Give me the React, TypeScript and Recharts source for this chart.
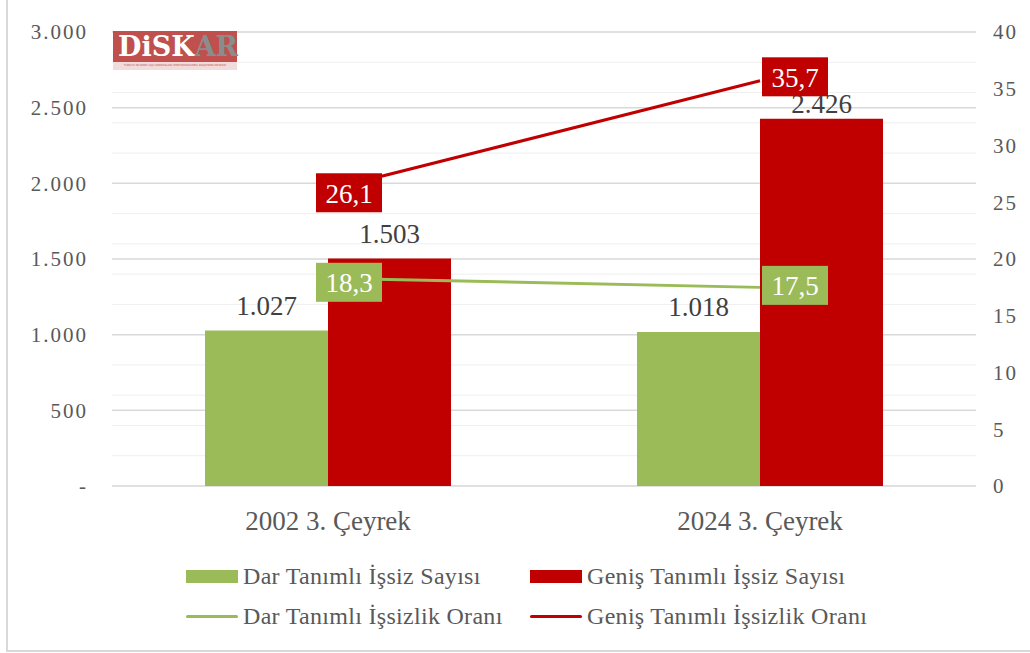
import React from 'react';
import { ComposedChart, Bar, Line, XAxis, YAxis, CartesianGrid, LabelList, Legend } from 'recharts';

const categories = ['2002 3. Çeyrek', '2024 3. Çeyrek'];
const darSayisi = [1027, 1018];
const genisSayisi = [1503, 2426];
const darOrani = [18.3, 17.5];
const genisOrani = [26.1, 35.7];
const leftTicks = [0, 500, 1000, 1500, 2000, 2500, 3000];
const rightTicks = [0, 5, 10, 15, 20, 25, 30, 35, 40];
const minorTicks = Array.from({ length: 31 }, (_, i) => i * 100);

const seriesNames = {
  darSayisi: 'Dar Tanımlı İşsiz Sayısı',
  genisSayisi: 'Geniş Tanımlı İşsiz Sayısı',
  darOrani: 'Dar Tanımlı İşsizlik Oranı',
  genisOrani: 'Geniş Tanımlı İşsizlik Oranı',
};

const GREEN = '#9bbb59';
const RED = '#c00000';
const TEXT = '#595959';
const SERIF = '"Liberation Serif", "DejaVu Serif", serif';

const data = categories.map((c, i) => ({
  name: c,
  darSayisi: darSayisi[i],
  genisSayisi: genisSayisi[i],
  darOrani: darOrani[i],
  genisOrani: genisOrani[i],
}));

const fmtThousands = (v: number) => {
  if (v === 0) return '-';
  const s = String(Math.round(v));
  return s.replace(/\B(?=(\d{3})+(?!\d))/g, '.');
};
const fmtDecimal = (v: number) => v.toFixed(1).replace('.', ',');

const labelShiftX = [21, 35];

const makeBoxLabel = (color: string, shiftY: number[]) => (props: any) => {
  const { x, y, value, index } = props;
  const cx = x + labelShiftX[index];
  const cy = y + shiftY[index];
  const w = 66;
  const h = 39;
  return (
    <g>
      <rect x={cx - w / 2} y={cy - h / 2} width={w} height={h} fill={color} />
      <text x={cx} y={cy + 1} textAnchor="middle" dominantBaseline="central" fill="#ffffff" fontSize={27} fontFamily={SERIF}>
        {fmtDecimal(value)}
      </text>
    </g>
  );
};

const makeBarLabel = (shiftY: number[]) => (props: any) => {
  const { x, y, width, value, index } = props;
  const cx = x + width / 2;
  const cy = y - 25 + shiftY[index];
  return (
    <text x={cx} y={cy} textAnchor="middle" dominantBaseline="central" fill="#404040" fontSize={27} fontFamily={SERIF}>
      {fmtThousands(Number(value))}
    </text>
  );
};

const LegendContent = () => {
  const items = [
    { key: 'darSayisi', color: GREEN, type: 'rect', left: 186, top: 562 },
    { key: 'genisSayisi', color: RED, type: 'rect', left: 530, top: 562 },
    { key: 'darOrani', color: GREEN, type: 'line', left: 186, top: 602 },
    { key: 'genisOrani', color: RED, type: 'line', left: 530, top: 602 },
  ];
  return (
    <div style={{ position: 'relative', width: 1030, height: 90 }}>
      {items.map((it) => (
        <div key={it.key} style={{ position: 'absolute', left: it.left, top: it.top - 555, display: 'flex', alignItems: 'center', height: 28 }}>
          <div style={{ width: 52, height: it.type === 'rect' ? 13 : 3, background: it.color, borderRadius: it.type === 'line' ? 2 : 0, marginRight: 5 }} />
          <span style={{ fontFamily: SERIF, fontSize: 24, color: TEXT, whiteSpace: 'nowrap', letterSpacing: 0.3 }}>{(seriesNames as any)[it.key]}</span>
        </div>
      ))}
    </div>
  );
};

export default function App() {
  return (
    <div style={{ position: 'absolute', left: 0, top: 0, width: 1030, height: 653, background: '#ffffff', overflow: 'hidden' }}>
      <ComposedChart
        width={1030}
        height={653}
        data={data}
        margin={{ top: 32, right: 4, left: 12, bottom: 17 }}
        barGap={0}
      >
        <CartesianGrid yAxisId="left" vertical={false} horizontalValues={minorTicks} stroke="#efefef" strokeWidth={1} />
        <CartesianGrid yAxisId="left" vertical={false} horizontalValues={leftTicks} stroke="#d9d9d9" strokeWidth={1.5} />
        <XAxis
          dataKey="name"
          xAxisId={0}
          axisLine={false}
          tickLine={false}
          tickSize={0}
          tickMargin={25}
          height={60}
          tick={{ fill: TEXT, fontSize: 27, fontFamily: SERIF }}
        />
        <YAxis
          yAxisId="left"
          orientation="left"
          width={100}
          domain={[0, 3000]}
          ticks={leftTicks}
          axisLine={false}
          tickLine={false}
          tickSize={0}
          tickMargin={24}
          tickFormatter={fmtThousands}
          tick={{ fill: TEXT, fontSize: 21, fontFamily: SERIF, letterSpacing: 2 }}
        />
        <YAxis
          yAxisId="right"
          orientation="right"
          width={50}
          domain={[0, 40]}
          ticks={rightTicks}
          axisLine={false}
          tickLine={false}
          tickSize={0}
          tickMargin={17}
          tick={{ fill: TEXT, fontSize: 21, fontFamily: SERIF, letterSpacing: 2 }}
        />
        <Bar yAxisId="left" dataKey="darSayisi" name={seriesNames.darSayisi} fill={GREEN} barSize={123} isAnimationActive={false}>
          <LabelList dataKey="darSayisi" content={makeBarLabel([0, 0])} />
        </Bar>
        <Bar yAxisId="left" dataKey="genisSayisi" name={seriesNames.genisSayisi} fill={RED} barSize={123} isAnimationActive={false}>
          <LabelList dataKey="genisSayisi" content={makeBarLabel([0, 10])} />
        </Bar>
        <Line yAxisId="right" type="linear" dataKey="darOrani" name={seriesNames.darOrani} stroke={GREEN} strokeWidth={3} dot={false} activeDot={false} isAnimationActive={false}>
          <LabelList dataKey="darOrani" content={makeBoxLabel(GREEN, [4, -2])} />
        </Line>
        <Line yAxisId="right" type="linear" dataKey="genisOrani" name={seriesNames.genisOrani} stroke={RED} strokeWidth={3} dot={false} activeDot={false} isAnimationActive={false}>
          <LabelList dataKey="genisOrani" content={makeBoxLabel(RED, [3, -4])} />
        </Line>
        <Legend content={<LegendContent />} wrapperStyle={{ position: 'absolute', left: 0, top: 555, width: 1030, height: 90 }} />
      </ComposedChart>
      <div style={{ position: 'absolute', left: 113, top: 31, width: 124, height: 41 }}>
        <div style={{ position: 'absolute', left: 0, top: 0, width: 124, height: 31, background: '#c0504d' }} />
        <div style={{ position: 'absolute', left: 5, top: 0, height: 31, display: 'flex', alignItems: 'center', fontFamily: '"DejaVu Serif", serif', fontWeight: 'bold', fontSize: 27, lineHeight: '31px' }}>
          <span style={{ color: '#ffffff' }}>DiSK</span>
          <span style={{ color: '#8c8c8c' }}>AR</span>
        </div>
        <div style={{ position: 'absolute', left: 0, top: 31, width: 124, height: 8, background: '#f2dcdb', fontFamily: '"DejaVu Sans", sans-serif', fontSize: 2.6, color: '#c0504d', textAlign: 'center', lineHeight: '8px', whiteSpace: 'nowrap' }}>
          TÜRKİYE DEVRİMCİ İŞÇİ SENDİKALARI KONFEDERASYONU ARAŞTIRMA MERKEZİ
        </div>
      </div>
      <div style={{ position: 'absolute', left: 6, top: 0, width: 2, height: 652, background: '#d9d9d9' }} />
      <div style={{ position: 'absolute', left: 6, top: 650, width: 1024, height: 2, background: '#d9d9d9' }} />
    </div>
  );
}
